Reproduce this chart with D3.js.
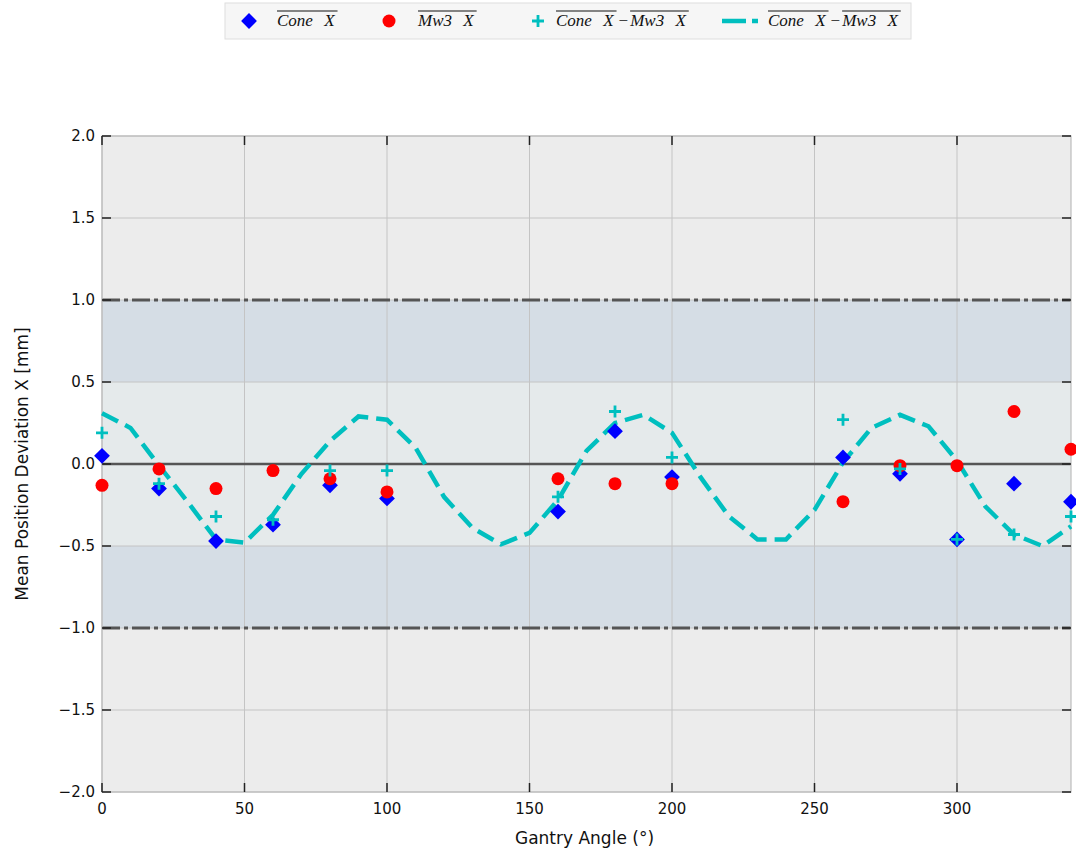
<!DOCTYPE html>
<html>
<head>
<meta charset="utf-8">
<script src="https://d3js.org/d3.v7.min.js"></script>
<style>
  body { margin: 0; background: #fff; }
</style>
</head>
<body>
<div id="graph"></div>
<script>

// measured gantry angles and mean deviations (mm)
var angles = [0, 20, 40, 60, 80, 100, 160, 180, 200, 260, 280, 300, 320, 340];
var coneX = [0.05, -0.15, -0.47, -0.37, -0.13, -0.21, -0.29, 0.20, -0.08, 0.04, -0.06, -0.46, -0.12, -0.23];
var mw3X  = [-0.13, -0.03, -0.15, -0.04, -0.09, -0.17, -0.09, -0.12, -0.12, -0.23, -0.01, -0.01, 0.32, 0.09];
var diffX = [0.19, -0.12, -0.32, -0.34, -0.04, -0.04, -0.20, 0.32, 0.04, 0.27, -0.03, -0.46, -0.43, -0.32];

// fitted curve
var fitAngles = [0, 10, 20, 30, 40, 50, 60, 70, 80, 90, 100, 110, 120, 130, 140, 150, 160, 170,
                 180, 190, 200, 210, 220, 230, 240, 250, 260, 270, 280, 290, 300, 310, 320, 330, 340];
var fitX = [0.31, 0.22, -0.01, -0.23, -0.46, -0.48, -0.31, -0.06, 0.14, 0.29, 0.27, 0.10, -0.20, -0.39,
            -0.49, -0.42, -0.22, 0.08, 0.25, 0.30, 0.19, -0.08, -0.32, -0.46, -0.46, -0.28, 0.01, 0.22,
            0.30, 0.23, 0.02, -0.26, -0.43, -0.50, -0.38];

var xTicks = [0, 50, 100, 150, 200, 250, 300];
var yTicks = [-2.0, -1.5, -1.0, -0.5, 0.0, 0.5, 1.0, 1.5, 2.0];

var W = 1076, H = 850;
var margin = {top: 136, right: 5, bottom: 58, left: 102},
    width = W - margin.left - margin.right,
    height = H - margin.top - margin.bottom;

var sans = "DejaVu Sans, sans-serif";

var svg = d3.select("#graph").append("svg")
    .attr("width", W).attr("height", H);

var g = svg.append("g")
    .attr("transform", "translate(" + margin.left + "," + margin.top + ")");

var x = d3.scaleLinear().domain([0, 340]).range([0, width]);
var y = d3.scaleLinear().domain([-2, 2]).range([height, 0]);

// background and tolerance bands
g.append("rect").attr("width", width).attr("height", height).attr("fill", "#ececec");
g.append("rect")
  .attr("y", y(1)).attr("width", width).attr("height", y(-1) - y(1))
  .attr("fill", "#d5dde5");
g.append("rect")
  .attr("y", y(0.5)).attr("width", width).attr("height", y(-0.5) - y(0.5))
  .attr("fill", "#e5eaeb");

// grid
g.append("g").selectAll("line").data(xTicks).enter().append("line")
  .attr("x1", d => x(d)).attr("x2", d => x(d))
  .attr("y1", 0).attr("y2", height)
  .attr("stroke", "#c4c4c4").attr("stroke-width", 1);
g.append("g").selectAll("line").data(yTicks).enter().append("line")
  .attr("y1", d => y(d)).attr("y2", d => y(d))
  .attr("x1", 0).attr("x2", width)
  .attr("stroke", "#c4c4c4").attr("stroke-width", 1);

// limits at +/-1 and zero line
g.append("g").selectAll("line").data([1, -1]).enter().append("line")
  .attr("x1", 0).attr("x2", width)
  .attr("y1", d => y(d)).attr("y2", d => y(d))
  .attr("stroke", "#555").attr("stroke-width", 3)
  .attr("stroke-dasharray", "18,4,4,4");
g.append("line")
  .attr("x1", 0).attr("x2", width)
  .attr("y1", y(0)).attr("y2", y(0))
  .attr("stroke", "#555").attr("stroke-width", 2.5);

// frame
g.append("rect").attr("width", width).attr("height", height)
  .attr("fill", "none").attr("stroke", "#bcbcbc").attr("stroke-width", 1.2);

// ticks, pointing inward on all four sides
var tk = g.append("g").attr("stroke", "#222").attr("stroke-width", 1.5);
yTicks.forEach(function(d) {
  tk.append("line").attr("x1", 0).attr("x2", 9).attr("y1", y(d)).attr("y2", y(d));
  tk.append("line").attr("x1", width).attr("x2", width - 9).attr("y1", y(d)).attr("y2", y(d));
});
xTicks.forEach(function(d) {
  tk.append("line").attr("x1", x(d)).attr("x2", x(d)).attr("y1", height).attr("y2", height - 9);
  tk.append("line").attr("x1", x(d)).attr("x2", x(d)).attr("y1", 0).attr("y2", 9);
});

// tick labels
var fmt = d3.format(".1f");
g.append("g").selectAll("text").data(yTicks).enter().append("text")
  .attr("x", -7).attr("y", d => y(d)).attr("dy", "0.35em")
  .attr("text-anchor", "end").style("font-family", sans).style("font-size", "15px").attr("fill", "#111")
  .text(d => fmt(d));
g.append("g").selectAll("text").data(xTicks).enter().append("text")
  .attr("x", d => x(d)).attr("y", height + 22)
  .attr("text-anchor", "middle").style("font-family", sans).style("font-size", "15px").attr("fill", "#111")
  .text(d => d);

// axis labels
g.append("text")
  .attr("x", width / 2 - 2).attr("y", height + 52)
  .attr("text-anchor", "middle").style("font-family", sans).style("font-size", "17px").attr("fill", "#111")
  .text("Gantry Angle (°)");
g.append("text")
  .attr("transform", "translate(" + (-74) + "," + (height / 2) + ") rotate(-90)")
  .attr("text-anchor", "middle").style("font-family", sans).style("font-size", "17px").attr("fill", "#111")
  .text("Mean Position Deviation X [mm]");

var cyan = "#00bfbf";

// dashed fit curve
var fitData = fitAngles.map((a, i) => [a, fitX[i]]);
g.append("path")
  .datum(fitData)
  .attr("fill", "none").attr("stroke", cyan).attr("stroke-width", 4.5)
  .attr("stroke-dasharray", "18,8")
  .attr("d", d3.line().x(d => x(d[0])).y(d => y(d[1])));

var diamond = d3.symbol().type(d3.symbolSquare).size(125);

// Cone X markers
g.append("g").selectAll("path").data(angles).enter().append("path")
  .attr("d", diamond)
  .attr("transform", (d, i) => "translate(" + x(d) + "," + y(coneX[i]) + ") rotate(45)")
  .attr("fill", "#0000ff");

// Mw3 X markers
g.append("g").selectAll("circle").data(angles).enter().append("circle")
  .attr("cx", d => x(d)).attr("cy", (d, i) => y(mw3X[i]))
  .attr("r", 6.5).attr("fill", "#ff0000");

// difference markers
g.append("g").selectAll("path").data(angles).enter().append("path")
  .attr("d", "M-6,0H6M0,-6V6")
  .attr("transform", (d, i) => "translate(" + x(d) + "," + y(diffX[i]) + ")")
  .attr("stroke", cyan).attr("stroke-width", 2.8).attr("fill", "none");

// legend
var leg = svg.append("g");
leg.append("rect")
  .attr("x", 225).attr("y", 3).attr("width", 686).attr("height", 36)
  .attr("fill", "#f6f6f6").attr("stroke", "#dedede").attr("stroke-width", 1);

leg.append("path").attr("d", diamond)
  .attr("transform", "translate(249,21) rotate(45)").attr("fill", "#0000ff");
leg.append("circle").attr("cx", 389).attr("cy", 21).attr("r", 6.5).attr("fill", "#ff0000");
leg.append("path").attr("d", "M-6,0H6M0,-6V6")
  .attr("transform", "translate(538,21)")
  .attr("stroke", cyan).attr("stroke-width", 2.8);
leg.append("line").attr("x1", 722).attr("x2", 758).attr("y1", 21).attr("y2", 21)
  .attr("stroke", cyan).attr("stroke-width", 4.5).attr("stroke-dasharray", "24,6");

// overlined math-style labels; each part is [text, overline?]
var legendLabels = [
  {x: 277, parts: [["Cone X", true]]},
  {x: 418, parts: [["Mw3 X", true]]},
  {x: 556, parts: [["Cone X", true], ["\u2212", false], ["Mw3 X", true]]},
  {x: 768, parts: [["Cone X", true], ["\u2212", false], ["Mw3 X", true]]}
];
legendLabels.forEach(function(lab) {
  var cx = lab.x;
  lab.parts.forEach(function(p) {
    var t = leg.append("text")
      .attr("x", cx).attr("y", 26)
      .style("font-family", "'Liberation Serif', 'DejaVu Serif', serif")
      .style("font-style", p[1] ? "italic" : "normal")
      .style("font-size", "17px").attr("fill", "#111")
      .style("word-spacing", "7px")
      .text(p[0]);
    var w = t.node().getComputedTextLength() + (p[1] ? 3 : 0);
    if (p[1]) {
      leg.append("line")
        .attr("x1", cx).attr("x2", cx + w)
        .attr("y1", 11).attr("y2", 11)
        .attr("stroke", "#111").attr("stroke-width", 1);
    }
    cx += w + 2;
  });
});

</script>
</body>
</html>
